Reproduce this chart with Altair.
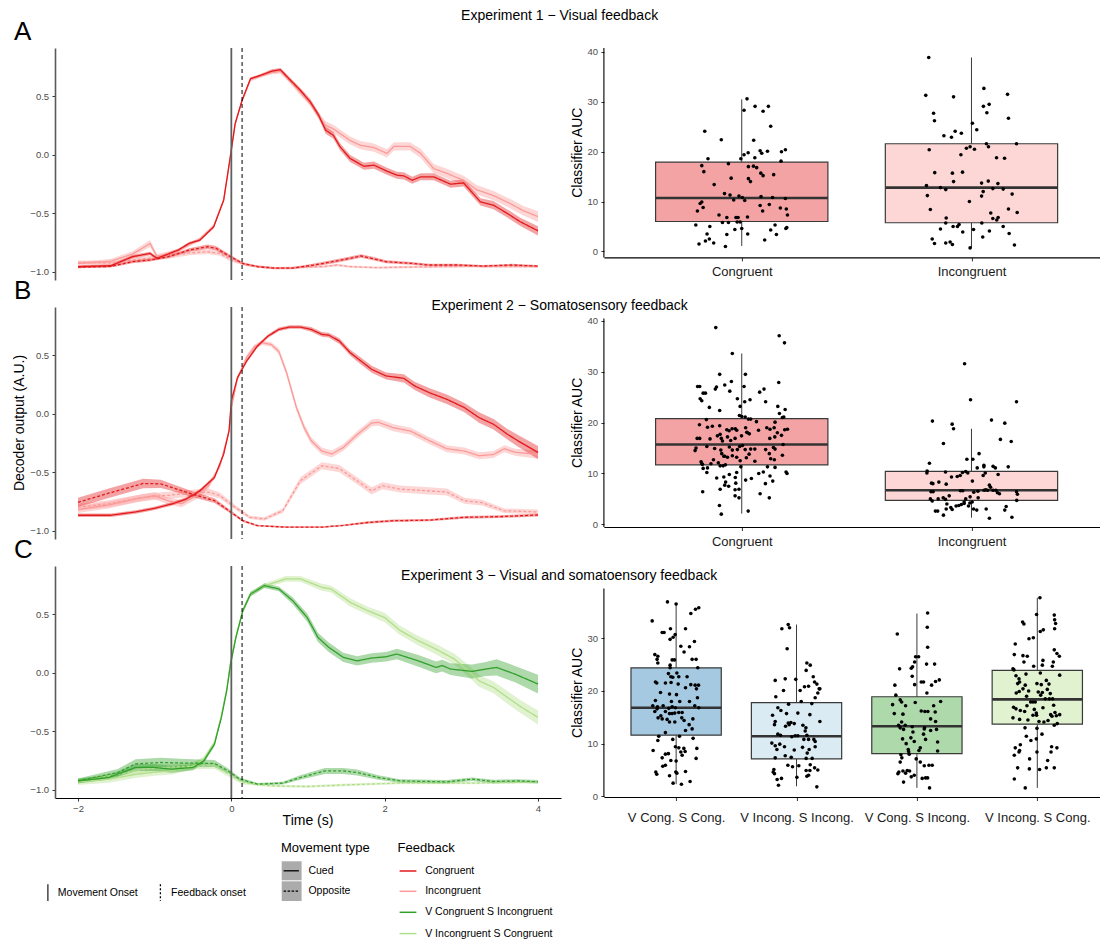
import altair as alt
import pandas as pd

FONT = "Liberation Sans"
INK = "#1a1a1a"
TICK_GREY = "#4d4d4d"

# ---------------------------------------------------------------- categories
FEEDBACK = ["Congruent", "Incongruent", "V Congruent S Incongruent", "V Incongruent S Congruent"]
FEEDBACK_COLORS = ["#E31A1C", "#FB9A99", "#33A02C", "#B2DF8A"]
MOVEMENT = ["Cued", "Opposite"]
MOVEMENT_DASH = [[1, 0], [3, 2]]
MOVEMENT_ONSET = 0.0
FEEDBACK_ONSET = 0.14

EXP_TITLES = {
    "exp1": "Experiment 1 \u2212 Visual feedback",
    "exp2": "Experiment 2 \u2212 Somatosensory feedback",
    "exp3": "Experiment 3 \u2212 Visual and somatoensory feedback",
}

# ------------------------------------------- decoder output: (time, mean, se)
EXP1_CUED_CONGRUENT = [
    (-2.0, -0.957, .012), (-1.57, -0.949, .012), (-1.29, -0.872, .015), (-1.06, -0.844, .015),
    (-0.97, -0.886, .012), (-0.69, -0.815, .012), (-0.55, -0.758, .012), (-0.41, -0.73, .012),
    (-0.23, -0.617, .012), (-0.10, -0.389, .012), (-0.02, -0.048, .012), (0.05, 0.265, .012),
    (0.14, 0.463, .012), (0.25, 0.648, .012), (0.38, 0.676, .012), (0.53, 0.713, .015),
    (0.64, 0.725, .015), (0.75, 0.648, .02), (0.90, 0.549, .02), (1.03, 0.449, .025),
    (1.14, 0.335, .025), (1.23, 0.208, .03), (1.33, 0.165, .03), (1.42, 0.065, .03),
    (1.55, -0.034, .03), (1.73, -0.10, .03), (1.86, -0.09, .03), (2.03, -0.142, .03),
    (2.16, -0.176, .03), (2.25, -0.182, .03), (2.36, -0.219, .03), (2.47, -0.19, .03),
    (2.64, -0.19, .03), (2.86, -0.253, .03), (3.03, -0.242, .03), (3.25, -0.404, .03),
    (3.42, -0.432, .035), (3.60, -0.503, .035), (3.77, -0.574, .035), (4.0, -0.651, .04),
]
EXP1_CUED_INCONGRUENT = [
    (-2.0, -0.93, .015), (-1.57, -0.91, .02), (-1.29, -0.85, .025), (-1.06, -0.76, .03),
    (-0.97, -0.87, .02), (-0.69, -0.82, .015), (-0.55, -0.77, .015), (-0.41, -0.72, .015),
    (-0.23, -0.61, .015), (-0.10, -0.39, .015), (-0.02, -0.05, .015), (0.05, 0.26, .015),
    (0.14, 0.46, .015), (0.25, 0.64, .015), (0.38, 0.67, .015), (0.53, 0.70, .015),
    (0.64, 0.71, .02), (0.75, 0.64, .02), (0.90, 0.53, .025), (1.03, 0.44, .025),
    (1.14, 0.33, .03), (1.23, 0.25, .035), (1.33, 0.22, .035), (1.55, 0.12, .035),
    (1.68, 0.08, .035), (1.86, 0.06, .035), (2.03, 0.01, .035), (2.12, 0.07, .035),
    (2.33, 0.07, .035), (2.47, 0.01, .04), (2.64, -0.12, .04), (2.81, -0.16, .04),
    (3.03, -0.22, .04), (3.2, -0.30, .04), (3.42, -0.35, .04), (3.64, -0.42, .04),
    (3.81, -0.48, .04), (4.0, -0.53, .045),
]
EXP1_OPPOSITE_CONGRUENT = [
    (-2.0, -0.96, .01), (-1.57, -0.955, .01), (-1.29, -0.915, .012), (-1.06, -0.90, .012),
    (-0.82, -0.872, .012), (-0.55, -0.815, .015), (-0.31, -0.787, .02), (-0.20, -0.80, .02),
    (-0.01, -0.872, .015), (0.15, -0.93, .01), (0.34, -0.957, .01), (0.57, -0.97, .01),
    (0.80, -0.97, .01), (1.08, -0.943, .012), (1.32, -0.915, .015), (1.55, -0.886, .015),
    (1.69, -0.866, .015), (1.83, -0.886, .015), (2.02, -0.915, .012), (2.35, -0.929, .012),
    (2.58, -0.943, .01), (2.95, -0.943, .01), (3.28, -0.952, .01), (3.65, -0.943, .01),
    (4.0, -0.952, .01),
]
EXP1_OPPOSITE_INCONGRUENT = [
    (-2.0, -0.92, .015), (-1.57, -0.925, .015), (-1.29, -0.90, .02), (-0.82, -0.87, .02),
    (-0.55, -0.84, .02), (-0.31, -0.83, .02), (-0.15, -0.844, .02), (0.0, -0.90, .015),
    (0.2, -0.943, .01), (0.53, -0.97, .01), (0.80, -0.965, .01), (1.2, -0.957, .01),
    (1.38, -0.943, .01), (1.55, -0.957, .01), (1.9, -0.966, .01), (2.35, -0.96, .01),
    (3.05, -0.955, .01), (4.0, -0.957, .01),
]

EXP2_CUED_CONGRUENT = [
    (-2.0, -0.868, .015), (-1.57, -0.868, .015), (-1.25, -0.84, .015), (-1.01, -0.81, .015),
    (-0.78, -0.773, .015), (-0.59, -0.73, .015), (-0.41, -0.66, .015), (-0.22, -0.545, .015),
    (-0.10, -0.347, .015), (-0.03, -0.148, .015), (0.0, 0.108, .015), (0.08, 0.307, .015),
    (0.20, 0.449, .015), (0.34, 0.577, .015), (0.48, 0.662, .015), (0.62, 0.719, .015),
    (0.76, 0.739, .015), (0.90, 0.739, .015), (1.04, 0.719, .02), (1.18, 0.676, .02),
    (1.27, 0.67, .02), (1.41, 0.619, .025), (1.55, 0.52, .025), (1.69, 0.449, .03),
    (1.83, 0.378, .03), (2.02, 0.321, .03), (2.25, 0.301, .035), (2.39, 0.236, .035),
    (2.58, 0.179, .04), (2.81, 0.122, .04), (3.04, 0.051, .04), (3.23, -0.034, .045),
    (3.42, -0.091, .045), (3.60, -0.176, .045), (3.74, -0.233, .05), (4.0, -0.332, .055),
]
EXP2_CUED_INCONGRUENT = [
    (-2.0, -0.82, .03), (-1.6, -0.78, .03), (-1.25, -0.73, .03), (-1.0, -0.70, .03),
    (-0.85, -0.74, .03), (-0.65, -0.77, .03), (-0.45, -0.70, .03), (-0.3, -0.62, .025),
    (-0.15, -0.45, .02), (-0.03, -0.15, .02), (0.0, 0.05, .02), (0.08, 0.30, .02),
    (0.2, 0.48, .02), (0.3, 0.57, .02), (0.4, 0.605, .02), (0.52, 0.59, .02),
    (0.62, 0.53, .025), (0.72, 0.35, .03), (0.85, 0.05, .03), (0.95, -0.12, .03),
    (1.04, -0.23, .03), (1.18, -0.32, .03), (1.31, -0.345, .03), (1.46, -0.29, .03),
    (1.64, -0.18, .03), (1.83, -0.08, .03), (1.92, -0.075, .03), (2.11, -0.12, .03),
    (2.34, -0.15, .03), (2.58, -0.23, .03), (2.81, -0.30, .03), (3.04, -0.32, .03),
    (3.23, -0.36, .03), (3.42, -0.35, .03), (3.56, -0.30, .03), (3.70, -0.33, .03),
    (4.0, -0.35, .035),
]
EXP2_OPPOSITE_CONGRUENT = [
    (-2.0, -0.758, .04), (-1.6, -0.68, .04), (-1.15, -0.597, .04), (-0.92, -0.60, .035),
    (-0.78, -0.63, .03), (-0.5, -0.69, .025), (-0.22, -0.744, .02), (-0.03, -0.83, .015),
    (0.15, -0.915, .01), (0.34, -0.957, .008), (0.72, -0.97, .008), (1.18, -0.97, .008),
    (1.46, -0.955, .008), (1.78, -0.93, .01), (2.11, -0.915, .01), (2.58, -0.91, .01),
    (3.04, -0.886, .012), (3.51, -0.88, .012), (4.0, -0.866, .012),
]
EXP2_OPPOSITE_INCONGRUENT = [
    (-2.0, -0.80, .03), (-1.6, -0.77, .03), (-1.15, -0.716, .03), (-0.7, -0.69, .03),
    (-0.3, -0.67, .03), (-0.15, -0.70, .025), (0.05, -0.80, .02), (0.24, -0.886, .015),
    (0.43, -0.90, .015), (0.67, -0.83, .02), (0.90, -0.574, .03), (1.18, -0.446, .03),
    (1.41, -0.47, .03), (1.64, -0.574, .03), (1.83, -0.66, .03), (1.97, -0.616, .03),
    (2.20, -0.645, .03), (2.58, -0.66, .03), (2.81, -0.67, .03), (3.04, -0.744, .025),
    (3.27, -0.76, .025), (3.56, -0.83, .02), (4.0, -0.84, .02),
]

EXP3_CUED_VC_SI = [
    (-2.0, -0.925, .02), (-1.6, -0.896, .02), (-1.25, -0.81, .03), (-1.01, -0.81, .03),
    (-0.78, -0.825, .03), (-0.5, -0.81, .025), (-0.36, -0.754, .02), (-0.22, -0.611, .02),
    (-0.13, -0.383, .02), (-0.06, -0.155, .02), (-0.01, 0.073, .02), (0.06, 0.30, .02),
    (0.15, 0.528, .02), (0.25, 0.67, .02), (0.43, 0.742, .02), (0.62, 0.714, .02),
    (0.80, 0.614, .03), (0.99, 0.47, .035), (1.13, 0.30, .04), (1.27, 0.216, .04),
    (1.46, 0.13, .04), (1.64, 0.10, .04), (1.83, 0.124, .04), (2.02, 0.135, .04),
    (2.16, 0.158, .045), (2.44, 0.10, .05), (2.67, 0.044, .05), (2.75, 0.06, .05),
    (2.86, 0.03, .05), (3.14, 0.01, .06), (3.32, 0.03, .06), (3.46, 0.044, .07),
    (3.70, -0.013, .07), (4.0, -0.098, .08),
]
EXP3_CUED_VI_SC = [
    (-2.0, -0.935, .025), (-1.6, -0.91, .03), (-1.25, -0.87, .03), (-1.0, -0.85, .03),
    (-0.78, -0.84, .03), (-0.5, -0.80, .03), (-0.36, -0.74, .025), (-0.22, -0.60, .02),
    (-0.13, -0.37, .02), (-0.06, -0.14, .02), (-0.01, 0.09, .02), (0.06, 0.31, .02),
    (0.15, 0.53, .02), (0.25, 0.67, .02), (0.43, 0.74, .02), (0.71, 0.80, .025),
    (0.90, 0.80, .025), (1.18, 0.728, .03), (1.30, 0.714, .03), (1.55, 0.60, .035),
    (1.78, 0.528, .035), (2.0, 0.47, .04), (2.2, 0.36, .04), (2.44, 0.272, .04),
    (2.67, 0.20, .045), (2.91, 0.115, .045), (3.09, 0.016, .05), (3.23, -0.07, .05),
    (3.42, -0.127, .05), (3.60, -0.212, .055), (3.79, -0.298, .055), (4.0, -0.383, .06),
]
EXP3_OPPOSITE_VC_SI = [
    (-2.0, -0.925, .02), (-1.48, -0.853, .03), (-1.25, -0.78, .04), (-0.92, -0.768, .04),
    (-0.6, -0.773, .035), (-0.22, -0.776, .03), (-0.04, -0.84, .02), (0.11, -0.91, .015),
    (0.34, -0.953, .01), (0.67, -0.944, .012), (0.90, -0.896, .02), (1.22, -0.84, .025),
    (1.46, -0.84, .025), (1.64, -0.853, .025), (1.92, -0.896, .02), (2.2, -0.925, .015),
    (2.81, -0.933, .015), (3.14, -0.91, .015), (3.42, -0.93, .015), (3.74, -0.925, .015),
    (4.0, -0.933, .015),
]
EXP3_OPPOSITE_VI_SC = [
    (-2.0, -0.93, .02), (-1.48, -0.87, .02), (-1.1, -0.82, .03), (-0.6, -0.80, .03),
    (-0.22, -0.796, .025), (-0.04, -0.867, .02), (0.15, -0.94, .015), (0.52, -0.967, .01),
    (0.99, -0.973, .01), (1.46, -0.96, .01), (2.16, -0.944, .01), (3.09, -0.944, .01),
    (4.0, -0.936, .01),
]

# drawn in this order: lighter feedback first so the darker trace stays on top
SERIES = [
    ("exp1", "Incongruent", "Opposite", EXP1_OPPOSITE_INCONGRUENT),
    ("exp1", "Incongruent", "Cued", EXP1_CUED_INCONGRUENT),
    ("exp1", "Congruent", "Opposite", EXP1_OPPOSITE_CONGRUENT),
    ("exp1", "Congruent", "Cued", EXP1_CUED_CONGRUENT),
    ("exp2", "Incongruent", "Opposite", EXP2_OPPOSITE_INCONGRUENT),
    ("exp2", "Incongruent", "Cued", EXP2_CUED_INCONGRUENT),
    ("exp2", "Congruent", "Opposite", EXP2_OPPOSITE_CONGRUENT),
    ("exp2", "Congruent", "Cued", EXP2_CUED_CONGRUENT),
    ("exp3", "V Incongruent S Congruent", "Opposite", EXP3_OPPOSITE_VI_SC),
    ("exp3", "V Incongruent S Congruent", "Cued", EXP3_CUED_VI_SC),
    ("exp3", "V Congruent S Incongruent", "Opposite", EXP3_OPPOSITE_VC_SI),
    ("exp3", "V Congruent S Incongruent", "Cued", EXP3_CUED_VC_SI),
]

# ------------------------------------------------ classifier AUC per subject
# box statistics: (lower whisker, q1, median, q3, upper whisker)
EXP1_LABELS = ["Congruent", "Incongruent"]
EXP1_FILLS = ["#F4A3A4", "#FDD7D6"]
EXP1_BOXES = [(1.1, 6.0, 10.7, 17.9, 30.5), (0.7, 5.75, 12.8, 21.6, 38.9)]
EXP2_LABELS = ["Congruent", "Incongruent"]
EXP2_FILLS = ["#F4A3A4", "#FDD7D6"]
EXP2_BOXES = [(2.1, 11.7, 15.7, 20.8, 33.6), (1.3, 4.7, 6.7, 10.4, 18.8)]
EXP3_LABELS = ["V Cong. S Cong.", "V Incong. S Incong.", "V Cong. S Incong.", "V Incong. S Cong."]
EXP3_FILLS = ["#A5C9E1", "#DBEBF4", "#ADD9AB", "#E0F2D0"]
EXP3_BOXES = [(2.3, 11.6, 16.8, 24.4, 36.5), (1.9, 7.1, 11.4, 17.8, 32.6),
              (1.6, 8.1, 13.3, 18.9, 34.7), (1.6, 13.7, 18.4, 23.9, 37.7)]

# subject points: (horizontal jitter in category units, AUC)
EXP1_CONGRUENT_POINTS = [
    (0.023, 30.6), (0.010, 28.3), (0.058, 29.1), (0.116, 29.1), (0.093, 28.1), (0.126, 25.1),
    (-0.161, 24.1), (-0.089, 22.4), (0.052, 22.3), (-0.147, 18.6), (-0.004, 18.6), (0.010, 19.4),
    (0.028, 19.8), (0.057, 18.8), (0.080, 20.2), (0.087, 19.7), (0.112, 20.1), (0.173, 20.0),
    (0.190, 20.4), (0.171, 18.1), (-0.174, 17.2), (-0.165, 16.0), (-0.058, 17.6), (0.029, 17.0),
    (0.051, 17.1), (0.065, 16.8), (0.083, 15.7), (0.093, 15.2), (0.139, 15.4), (-0.046, 14.7),
    (0.029, 14.6), (0.038, 14.0), (-0.120, 13.4), (-0.075, 11.6), (-0.051, 11.3), (-0.012, 11.1),
    (0.003, 10.8), (0.013, 10.2), (-0.035, 10.3), (0.084, 11.0), (0.134, 10.8), (0.190, 10.6),
    (-0.174, 9.9), (-0.181, 9.6), (-0.168, 8.8), (-0.193, 8.1), (0.080, 9.2), (0.091, 8.1),
    (0.120, 9.4), (0.168, 8.7), (0.194, 8.5), (0.199, 7.3), (-0.099, 7.3), (-0.065, 6.8),
    (-0.025, 6.8), (-0.016, 6.8), (0.025, 6.9), (-0.084, 5.8), (-0.058, 5.8), (-0.020, 5.9),
    (-0.007, 5.9), (-0.200, 5.3), (-0.139, 5.0), (-0.151, 3.5), (-0.141, 2.5), (-0.158, 2.1),
    (-0.186, 1.5), (-0.122, 1.7), (-0.071, 1.0), (-0.065, 3.4), (-0.030, 4.4), (0.000, 4.6),
    (0.026, 3.5), (0.100, 2.3), (0.126, 4.3), (0.145, 5.3), (0.151, 3.4), (0.192, 4.6),
    (0.196, 4.8),
]
EXP1_INCONGRUENT_POINTS = [
    (-0.186, 38.9), (-0.199, 31.3), (-0.078, 31.0), (0.054, 32.7), (0.157, 31.5), (0.052, 29.1),
    (0.077, 29.5), (0.067, 27.8), (0.161, 26.7), (-0.165, 27.7), (-0.161, 26.2), (0.004, 25.7),
    (0.023, 24.4), (-0.120, 23.2), (-0.087, 22.9), (-0.071, 24.1), (-0.044, 23.7), (0.196, 21.6),
    (0.065, 21.6), (0.074, 21.0), (-0.184, 20.4), (-0.046, 19.4), (-0.022, 20.7), (-0.006, 21.0),
    (0.013, 20.5), (0.109, 18.8), (0.144, 18.7), (-0.160, 15.8), (-0.083, 15.7), (-0.039, 15.9),
    (-0.078, 14.0), (0.044, 13.7), (0.073, 14.1), (0.115, 13.6), (-0.196, 13.2), (-0.135, 12.8),
    (-0.112, 12.4), (0.093, 12.6), (0.138, 12.5), (-0.192, 11.2), (0.044, 11.1), (0.051, 12.0),
    (0.177, 11.5), (-0.009, 10.0), (-0.179, 8.4), (0.084, 7.7), (0.161, 8.5), (0.199, 7.8),
    (-0.110, 6.7), (0.093, 6.6), (0.110, 6.3), (0.116, 6.8), (-0.112, 5.7), (-0.135, 4.5),
    (-0.080, 5.0), (-0.061, 5.0), (-0.054, 5.4), (-0.038, 3.9), (0.009, 4.4), (0.045, 5.7),
    (0.078, 4.1), (0.138, 5.0), (0.049, 2.9), (0.164, 3.6), (-0.171, 2.5), (-0.161, 1.6),
    (-0.112, 1.7), (-0.093, 1.9), (-0.083, 1.4), (-0.006, 0.7), (0.187, 1.3),
]
EXP2_CONGRUENT_POINTS = [
    (-0.113, 38.7), (0.163, 37.1), (0.186, 35.7), (-0.041, 33.6), (0.016, 29.5), (-0.096, 29.5),
    (-0.192, 27.1), (-0.183, 27.1), (-0.115, 26.6), (-0.110, 27.0), (-0.074, 27.4), (-0.045, 28.1),
    (-0.052, 26.2), (0.010, 27.1), (-0.168, 25.8), (-0.158, 25.8), (-0.181, 24.7), (-0.174, 24.3),
    (-0.019, 24.7), (0.013, 24.1), (0.036, 24.5), (0.078, 26.0), (0.097, 26.6), (0.104, 24.1),
    (0.161, 27.9), (-0.141, 23.0), (-0.096, 22.4), (-0.007, 23.2), (0.157, 23.2), (0.189, 22.6),
    (0.164, 21.8), (-0.010, 21.4), (0.000, 21.2), (0.015, 21.1), (0.029, 20.7), (0.039, 20.7),
    (-0.154, 20.6), (0.064, 20.2), (0.145, 20.1), (0.177, 21.0), (0.183, 21.1), (-0.184, 19.6),
    (-0.149, 19.1), (-0.128, 19.3), (-0.096, 19.4), (-0.065, 18.6), (-0.055, 18.4), (-0.042, 18.8),
    (-0.028, 18.8), (-0.022, 18.5), (0.017, 19.0), (0.022, 18.1), (0.033, 17.8), (0.073, 18.5),
    (0.109, 19.0), (0.123, 18.7), (0.141, 19.0), (0.155, 18.0), (0.187, 18.6), (0.199, 18.7),
    (-0.194, 16.9), (-0.183, 16.9), (-0.138, 16.8), (-0.106, 17.4), (-0.094, 17.7), (-0.089, 16.9),
    (-0.084, 16.4), (-0.062, 17.2), (-0.048, 16.5), (-0.029, 16.9), (-0.001, 17.4), (0.025, 18.0),
    (0.122, 16.9), (0.144, 17.2), (0.173, 17.5), (-0.199, 15.0), (-0.203, 14.5), (-0.152, 15.3),
    (-0.118, 14.9), (-0.091, 14.6), (-0.087, 13.9), (-0.074, 13.4), (-0.054, 15.2), (-0.041, 14.6),
    (-0.019, 14.7), (-0.009, 15.3), (0.003, 15.5), (0.015, 14.7), (0.039, 14.8), (0.057, 14.8),
    (0.104, 14.7), (0.138, 15.1), (0.145, 14.8), (0.180, 15.7), (0.177, 13.6), (-0.078, 13.4),
    (-0.062, 13.2), (-0.041, 13.5), (-0.022, 13.2), (-0.007, 12.5), (0.020, 13.1), (0.032, 13.8),
    (0.057, 12.4), (0.120, 13.9), (0.126, 12.9), (0.142, 12.7), (-0.177, 12.3), (-0.174, 11.9),
    (-0.168, 11.0), (-0.149, 11.1), (-0.123, 12.7), (-0.134, 11.9), (-0.102, 12.1), (-0.094, 11.5),
    (-0.081, 11.5), (-0.071, 11.7), (-0.004, 11.3), (-0.171, 11.8), (0.112, 11.3), (0.145, 11.2),
    (0.193, 10.3), (0.197, 10.0), (-0.152, 10.2), (-0.109, 9.1), (-0.078, 9.3), (-0.054, 9.8),
    (-0.028, 9.2), (-0.022, 10.2), (0.017, 8.7), (0.042, 9.0), (0.074, 10.0), (0.094, 10.3),
    (0.123, 9.5), (0.135, 8.5), (0.103, 8.0), (-0.070, 8.3), (-0.074, 7.7), (-0.057, 7.5),
    (-0.026, 8.1), (-0.094, 6.9), (-0.029, 6.8), (-0.012, 6.9), (-0.170, 6.4), (0.080, 6.0),
    (0.120, 5.2), (-0.029, 5.6), (-0.012, 5.2), (-0.097, 3.7), (-0.089, 2.0), (0.028, 2.6),
]
EXP2_INCONGRUENT_POINTS = [
    (-0.030, 31.6), (-0.004, 24.5), (0.196, 24.1), (-0.170, 20.3), (-0.084, 19.7), (-0.078, 18.8),
    (0.087, 20.5), (0.145, 19.9), (-0.122, 15.9), (0.126, 16.7), (0.173, 16.3), (0.033, 13.9),
    (-0.020, 12.8), (0.006, 12.8), (-0.183, 12.0), (-0.193, 10.5), (-0.194, 10.1), (-0.113, 10.3),
    (-0.039, 10.2), (-0.025, 10.4), (-0.016, 10.1), (0.025, 11.1), (0.054, 11.6), (0.054, 11.3),
    (0.094, 11.4), (0.104, 11.1), (0.116, 9.8), (0.160, 11.3), (-0.062, 9.4), (-0.049, 9.6),
    (-0.142, 8.3), (-0.110, 7.9), (-0.174, 8.1), (-0.168, 8.0), (-0.087, 9.3), (0.004, 8.5),
    (0.051, 9.6), (0.060, 10.1), (0.078, 7.7), (0.083, 7.3), (0.070, 6.7), (0.106, 6.7),
    (0.113, 6.2), (0.122, 6.0), (0.196, 6.4), (0.200, 5.9), (-0.176, 6.4), (-0.167, 6.4),
    (-0.179, 5.0), (-0.171, 4.6), (-0.145, 5.0), (-0.123, 5.2), (-0.113, 4.9), (-0.097, 5.6),
    (-0.048, 6.6), (-0.038, 6.6), (-0.006, 5.4), (0.010, 6.3), (0.028, 6.5), (0.055, 6.7),
    (0.062, 6.8), (0.094, 6.7), (-0.025, 5.0), (-0.032, 4.4), (0.003, 4.4), (0.029, 5.2),
    (0.197, 4.7), (-0.107, 4.0), (-0.090, 3.3), (-0.084, 2.9), (-0.067, 3.6), (-0.055, 3.7),
    (-0.044, 3.9), (-0.032, 4.1), (-0.013, 3.6), (-0.007, 4.2), (-0.157, 2.6), (-0.147, 2.6),
    (-0.110, 3.0), (0.009, 3.0), (0.023, 2.8), (0.064, 3.0), (0.145, 2.8), (0.151, 3.5),
    (-0.122, 1.8), (0.078, 1.2), (0.176, 1.4),
]
EXP3_VC_SC_POINTS = [
    (-0.072, 36.9), (0.000, 36.5), (0.188, 35.8), (0.161, 35.5), (0.122, 34.7), (-0.199, 33.3),
    (-0.047, 31.8), (-0.116, 31.1), (-0.100, 31.1), (-0.008, 30.7), (-0.025, 30.2), (-0.050, 29.8),
    (0.078, 31.8), (0.039, 28.5), (0.111, 28.4), (0.152, 29.4), (-0.177, 26.9), (-0.152, 26.6),
    (-0.158, 26.0), (-0.152, 25.3), (-0.033, 25.9), (-0.014, 25.9), (-0.050, 24.9), (0.066, 27.4),
    (0.133, 26.0), (0.166, 26.0), (0.180, 24.4), (-0.050, 24.4), (-0.064, 23.3), (-0.044, 22.7),
    (-0.028, 22.6), (0.022, 22.7), (0.091, 22.7), (0.006, 23.4), (-0.172, 21.7), (-0.161, 21.5),
    (-0.089, 21.5), (-0.042, 21.6), (0.017, 21.3), (0.122, 21.2), (0.158, 21.1), (0.186, 21.1),
    (0.169, 20.4), (0.078, 20.6), (-0.130, 19.7), (-0.055, 19.4), (0.003, 19.3), (-0.172, 18.2),
    (-0.039, 18.0), (0.030, 18.0), (0.111, 18.0), (0.177, 18.7), (-0.194, 17.2), (-0.155, 17.0),
    (-0.158, 16.6), (-0.108, 17.2), (-0.061, 16.7), (-0.033, 17.0), (-0.006, 16.8), (0.155, 17.2),
    (0.188, 16.8), (-0.177, 16.1), (-0.089, 16.1), (-0.055, 15.7), (-0.033, 15.7), (-0.011, 15.8),
    (0.022, 15.9), (0.050, 15.9), (-0.127, 15.3), (-0.150, 14.9), (-0.116, 14.7), (-0.075, 14.6),
    (-0.055, 14.1), (-0.011, 14.1), (0.047, 14.9), (0.066, 14.4), (0.139, 14.7), (0.108, 13.6),
    (0.078, 12.5), (0.133, 12.8), (-0.144, 11.4), (-0.152, 10.6), (-0.028, 10.8), (-0.089, 12.1),
    (0.028, 11.4), (0.141, 11.0), (-0.006, 9.4), (0.022, 9.2), (0.064, 9.1), (0.075, 8.5),
    (0.039, 8.4), (0.050, 7.8), (-0.191, 8.7), (-0.089, 8.0), (-0.064, 8.1), (-0.116, 7.3),
    (0.172, 9.1), (-0.044, 6.8), (0.166, 7.2), (0.000, 6.7), (-0.089, 5.9), (-0.111, 5.7),
    (-0.003, 4.6), (-0.169, 4.6), (-0.161, 4.2), (-0.055, 3.9), (0.078, 4.7), (0.006, 4.4),
    (-0.025, 2.5), (0.044, 2.3), (0.116, 2.8),
]
EXP3_VI_SI_POINTS = [
    (-0.122, 31.8), (-0.069, 32.6), (-0.058, 32.0), (-0.078, 28.0), (0.086, 25.3), (0.114, 24.9),
    (0.080, 23.9), (0.139, 22.7), (0.150, 21.7), (0.169, 21.3), (0.188, 20.4), (0.177, 19.6),
    (0.194, 20.4), (-0.177, 22.0), (-0.094, 22.3), (-0.006, 22.2), (-0.108, 20.1), (0.100, 20.9),
    (0.066, 20.8), (0.030, 20.1), (-0.172, 18.9), (0.039, 18.0), (-0.066, 17.5), (0.155, 18.7),
    (0.127, 17.6), (-0.155, 16.8), (-0.130, 16.3), (-0.083, 15.7), (0.011, 15.8), (0.111, 15.5),
    (-0.199, 15.4), (-0.177, 14.2), (-0.183, 13.6), (-0.069, 13.9), (-0.047, 14.0), (-0.061, 13.6),
    (-0.091, 13.3), (-0.019, 13.8), (0.053, 13.5), (0.078, 13.0), (0.194, 14.2), (-0.039, 11.3),
    (-0.011, 11.5), (0.011, 11.5), (-0.155, 11.8), (-0.133, 11.6), (0.072, 12.4), (0.086, 11.6),
    (0.061, 10.8), (0.100, 10.8), (0.144, 10.8), (0.155, 10.4), (-0.205, 10.1), (-0.177, 9.6),
    (-0.139, 9.9), (-0.163, 8.9), (-0.100, 9.4), (-0.019, 8.8), (0.050, 9.3), (0.089, 8.2),
    (0.105, 8.9), (0.155, 9.4), (-0.177, 7.3), (-0.094, 7.7), (-0.044, 7.4), (0.080, 7.2),
    (0.130, 7.2), (-0.072, 5.9), (-0.033, 5.6), (0.019, 5.8), (0.114, 6.0), (0.080, 4.9),
    (0.111, 4.9), (0.150, 5.4), (0.177, 5.0), (-0.188, 5.1), (-0.194, 4.6), (-0.183, 4.3),
    (0.086, 3.8), (0.100, 4.0), (-0.161, 3.2), (-0.125, 3.4), (-0.150, 2.1), (0.003, 3.6),
    (0.169, 1.8),
]
EXP3_VC_SI_POINTS = [
    (0.089, 34.8), (0.086, 32.1), (-0.163, 30.8), (0.089, 28.3), (-0.011, 26.5), (0.014, 26.5),
    (-0.019, 25.5), (-0.036, 24.6), (-0.047, 24.3), (-0.144, 24.2), (0.080, 25.1), (0.147, 25.1),
    (-0.039, 22.8), (0.036, 21.7), (0.055, 21.7), (-0.019, 21.2), (0.122, 21.1), (0.186, 22.1),
    (0.155, 21.8), (0.083, 19.6), (-0.183, 21.1), (-0.175, 19.2), (-0.139, 18.3), (-0.127, 17.9),
    (-0.014, 17.8), (0.197, 18.0), (-0.202, 17.4), (-0.188, 15.7), (-0.094, 17.2), (0.036, 16.2),
    (0.066, 16.1), (0.091, 16.1), (0.139, 17.2), (0.152, 16.0), (-0.116, 15.6), (0.155, 14.2),
    (0.114, 14.7), (-0.127, 14.1), (-0.152, 13.5), (-0.139, 13.0), (-0.097, 13.5), (-0.039, 13.2),
    (-0.111, 12.7), (0.064, 13.0), (0.114, 12.5), (0.055, 11.8), (-0.033, 12.2), (-0.119, 10.9),
    (-0.050, 11.1), (-0.022, 10.4), (0.028, 9.2), (0.072, 10.8), (0.172, 10.3), (-0.089, 10.0),
    (-0.072, 8.9), (-0.069, 8.5), (0.017, 8.7), (-0.064, 8.0), (-0.133, 7.9), (-0.125, 7.3),
    (-0.139, 6.5), (-0.006, 7.1), (0.028, 6.5), (0.061, 5.8), (0.100, 5.9), (0.127, 5.9),
    (-0.150, 4.6), (-0.116, 4.8), (-0.094, 4.4), (-0.061, 4.8), (-0.158, 4.3), (-0.111, 2.7),
    (-0.047, 3.7), (-0.022, 4.0), (0.044, 3.4), (0.072, 3.5), (0.089, 3.5), (0.105, 1.6),
    (-0.080, 4.9), (0.061, 12.8), (0.172, 8.6), (0.163, 12.7),
]
EXP3_VI_SC_POINTS = [
    (0.022, 37.7), (-0.122, 33.1), (-0.111, 32.7), (-0.006, 34.5), (0.141, 34.4), (0.144, 33.5),
    (0.152, 32.8), (0.144, 31.8), (0.050, 31.6), (0.025, 31.3), (-0.069, 29.9), (-0.033, 30.1),
    (-0.183, 28.9), (0.141, 27.8), (0.163, 27.1), (0.183, 26.6), (-0.191, 26.9), (-0.119, 26.7),
    (-0.083, 26.6), (-0.111, 25.5), (-0.030, 24.7), (0.047, 25.8), (0.042, 24.9), (0.133, 25.5),
    (0.125, 24.7), (-0.202, 24.2), (-0.194, 24.0), (-0.177, 22.9), (-0.094, 23.2), (-0.152, 22.3),
    (0.025, 23.4), (0.075, 22.0), (0.186, 23.0), (-0.163, 21.4), (-0.147, 21.7), (-0.119, 20.4),
    (-0.100, 21.1), (-0.072, 20.0), (-0.003, 21.4), (0.033, 21.2), (0.097, 21.3), (0.108, 19.5),
    (0.008, 19.8), (0.042, 19.7), (0.083, 20.3), (0.127, 18.5), (-0.150, 19.9), (-0.175, 19.6),
    (-0.089, 19.0), (-0.055, 17.9), (-0.036, 17.9), (-0.017, 17.9), (0.028, 19.2), (0.066, 18.5),
    (0.100, 18.5), (0.136, 17.3), (-0.197, 16.9), (-0.177, 16.6), (-0.141, 16.3), (-0.105, 16.1),
    (-0.086, 17.2), (-0.025, 16.5), (-0.008, 15.8), (0.014, 14.2), (0.055, 14.1), (0.089, 14.4),
    (0.111, 15.5), (0.122, 15.2), (0.147, 15.9), (0.158, 15.3), (0.186, 15.5), (-0.202, 14.9),
    (-0.147, 14.6), (-0.078, 14.5), (-0.036, 15.4), (0.047, 16.8), (-0.006, 15.4), (0.141, 13.5),
    (-0.102, 13.0), (-0.003, 12.9), (-0.091, 11.4), (-0.053, 10.6), (-0.008, 10.9), (0.039, 11.8),
    (-0.141, 9.8), (-0.183, 9.2), (-0.191, 7.8), (-0.152, 8.4), (-0.064, 7.1), (-0.003, 8.4),
    (0.119, 9.4), (0.163, 9.2), (0.114, 8.4), (0.086, 6.8), (-0.163, 5.4), (-0.066, 5.2),
    (0.019, 5.1), (0.075, 5.4), (0.141, 5.4), (-0.191, 3.3), (-0.100, 1.6), (0.166, 13.8),
    (-0.147, 8.7),
]

EXP1_POINTS = [EXP1_CONGRUENT_POINTS, EXP1_INCONGRUENT_POINTS]
EXP2_POINTS = [EXP2_CONGRUENT_POINTS, EXP2_INCONGRUENT_POINTS]
EXP3_POINTS = [EXP3_VC_SC_POINTS, EXP3_VI_SI_POINTS, EXP3_VC_SI_POINTS, EXP3_VI_SC_POINTS]

# y limits of each AUC panel and visible end of the category axis
EXP1_AUC_LIMITS = (-1.2, 40.8)
EXP2_AUC_LIMITS = (-0.53, 40.47)
EXP3_AUC_LIMITS = (-0.13, 39.43)
TWO_GROUP_X_END = 2.559
FOUR_GROUP_X_END = 4.52
BOX_WIDTH = 0.75

# ------------------------------------------------------------ layout sizes
LINE_W, LINE_H = 506, 232
AUC_W = 496
ROW_GAP, COL_GAP = 27, 42.9

ONE = pd.DataFrame({"k": [0]})


def note(text, x, y, size, align="left", baseline="middle", angle=0, color="black"):
    return alt.Chart(ONE).mark_text(
        text=text, font=FONT, fontSize=size, align=align, baseline=baseline,
        angle=angle, color=color,
    ).encode(x=alt.value(x), y=alt.value(y))


def segment(x1, y1, x2, y2, color="black", width=1.0, dash=None):
    kw = dict(color=color, strokeWidth=width)
    if dash:
        kw["strokeDash"] = dash
    return alt.Chart(ONE).mark_rule(**kw).encode(
        x=alt.value(x1), y=alt.value(y1), x2=alt.value(x2), y2=alt.value(y2))


def block(x1, y1, x2, y2, color):
    return alt.Chart(ONE).mark_rect(color=color).encode(
        x=alt.value(x1), y=alt.value(y1), x2=alt.value(x2), y2=alt.value(y2))


# --------------------------------------------------------- time-course panels
rows = []
for exp, fb, mv, pts in SERIES:
    for t, m, se in pts:
        rows.append({"exp": exp, "feedback": fb, "movement": mv,
                     "t": t, "mean": m, "lo": m - se, "hi": m + se})
traces = pd.DataFrame(rows)

T_SCALE = alt.Scale(domain=[-2.3, 4.3], nice=False, zero=False)
D_SCALE = alt.Scale(domain=[-1.071, 0.91], nice=False, zero=False)


def decoder_axis():
    return alt.Axis(values=[-1.0, -0.5, 0.0, 0.5], format=".1f", title=None, grid=False,
                    domainColor="#5a5a5a", domainWidth=1.6, tickColor="#333333", tickSize=3,
                    labelPadding=3.4, labelColor=TICK_GREY, labelFontSize=9.5, labelFont=FONT)


def time_axis():
    return alt.Axis(values=[-2, 0, 2, 4], format="d", title=None, grid=False,
                    domainColor="black", domainWidth=1.1, tickColor="#333333", tickSize=3,
                    labelPadding=2, labelColor=TICK_GREY, labelFontSize=9.5, labelFont=FONT,
                    labelFlush=False)


def time_course(exp, with_time_axis, extras):
    d = traces[traces["exp"] == exp]
    xaxis = time_axis() if with_time_axis else None
    x = alt.X("t:Q", scale=T_SCALE, axis=xaxis)
    color = alt.Color("feedback:N", scale=alt.Scale(domain=FEEDBACK, range=FEEDBACK_COLORS),
                      legend=None)
    band = alt.Chart(d).mark_area(opacity=0.4).encode(
        x=x,
        y=alt.Y("lo:Q", scale=D_SCALE, axis=decoder_axis(), stack=None),
        y2="hi:Q",
        color=color,
        detail="movement:N",
    )
    trace = alt.Chart(d).mark_line(strokeWidth=1.3).encode(
        x=x,
        y=alt.Y("mean:Q", scale=D_SCALE, axis=decoder_axis()),
        color=color,
        strokeDash=alt.StrokeDash("movement:N",
                                  scale=alt.Scale(domain=MOVEMENT, range=MOVEMENT_DASH),
                                  legend=None),
    )
    onset = alt.Chart(ONE).mark_rule(color="#5f5f5f", strokeWidth=1.8).encode(
        x=alt.XDatum(MOVEMENT_ONSET, scale=T_SCALE, axis=xaxis),
        y=alt.value(0), y2=alt.value(LINE_H))
    fb_onset = alt.Chart(ONE).mark_rule(color="black", strokeWidth=1, strokeDash=[4, 3]).encode(
        x=alt.XDatum(FEEDBACK_ONSET, scale=T_SCALE, axis=xaxis),
        y=alt.value(0), y2=alt.value(LINE_H))
    return alt.layer(band, trace, onset, fb_onset, *extras).properties(
        width=LINE_W, height=LINE_H)


# ---------------------------------------------------------------- AUC panels
def auc_panel(labels, fills, boxes, clouds, limits, x_end, height, top_gap, label_pad, y_ticks):
    n = len(labels)
    total_h = height + top_gap
    lo, hi = limits
    y_top = lo + total_h * (hi - lo) / height
    ys = alt.Scale(domain=[lo, y_top], nice=False, zero=False)
    xs = alt.Scale(domain=[0.4, x_end], nice=False, zero=False)
    expr = " : ".join(f"datum.value == {i} ? '{lab}'" for i, lab in enumerate(labels, 1)) + " : ''"
    x_axis = alt.Axis(values=list(range(1, n + 1)), labelExpr=expr, title=None, grid=False,
                      domainColor="black", domainWidth=1.1, tickColor="#333333", tickSize=3.5,
                      labelPadding=label_pad, labelFontSize=13, labelColor=INK, labelFont=FONT,
                      labelFlush=False, labelOverlap=False)
    y_axis = alt.Axis(values=y_ticks, format="d", title=None, grid=False, domain=False,
                      tickColor="#333333", tickSize=3, labelPadding=3.4, labelFontSize=9.5,
                      labelColor=TICK_GREY, labelFont=FONT)

    box_df = pd.DataFrame([
        {"fill": fills[i], "pos": i + 1, "left": i + 1 - BOX_WIDTH / 2,
         "right": i + 1 + BOX_WIDTH / 2, "lo": b[0], "q1": b[1], "med": b[2],
         "q3": b[3], "hi": b[4]}
        for i, b in enumerate(boxes)
    ])
    pts_df = pd.DataFrame([
        {"x": i + 1 + off, "y": v}
        for i, cloud in enumerate(clouds) for off, v in cloud
    ])

    whisker = alt.Chart(box_df).mark_rule(color="#3a3a3a", strokeWidth=1).encode(
        x=alt.X("pos:Q", scale=xs, axis=x_axis),
        y=alt.Y("lo:Q", scale=ys, axis=y_axis), y2="hi:Q")
    box = alt.Chart(box_df).mark_rect(stroke="#3a3a3a", strokeWidth=1.2).encode(
        x=alt.X("left:Q", scale=xs, axis=x_axis), x2="right:Q",
        y=alt.Y("q1:Q", scale=ys, axis=y_axis), y2="q3:Q",
        fill=alt.Fill("fill:N", scale=None, legend=None))
    median = alt.Chart(box_df).mark_rule(color="#333333", strokeWidth=2.6).encode(
        x=alt.X("left:Q", scale=xs, axis=x_axis), x2="right:Q",
        y=alt.Y("med:Q", scale=ys, axis=y_axis))
    dots = alt.Chart(pts_df).mark_circle(size=13, color="black", opacity=1).encode(
        x=alt.X("x:Q", scale=xs, axis=x_axis),
        y=alt.Y("y:Q", scale=ys, axis=y_axis))
    y_line = alt.Chart(ONE).mark_rule(color="black", strokeWidth=1.1).encode(
        x=alt.value(0), y=alt.YDatum(hi, scale=ys, axis=y_axis), y2=alt.value(total_h))
    ytitle = note("Classifier AUC", -26.3, top_gap + height / 2, 14,
                  align="center", angle=270)
    return alt.layer(whisker, box, median, dots, y_line, ytitle).properties(
        width=AUC_W, height=total_h)


# ------------------------------------------------------------------ legend
legend_marks = [
    segment(-7.1, 318.3, -7.1, 335.0, color="black", width=1.1),
    note("Movement Onset", 2.8, 326.6, 10.5),
    segment(105.4, 318.3, 105.4, 335.0, color="black", width=1.3, dash=[2, 2]),
    note("Feedback onset", 116.1, 326.6, 10.5),
    note("Movement type", 225.9, 282, 13),
    block(226.7, 295.3, 246.6, 314.3, "#ababab"),
    block(226.7, 315.3, 246.6, 335.0, "#ababab"),
    segment(228.6, 304.8, 243.9, 304.8, color="black", width=1.3),
    segment(228.6, 325.1, 243.9, 325.1, color="black", width=1.3, dash=[2.5, 1.5]),
    note(MOVEMENT[0], 253.4, 305, 10.5),
    note(MOVEMENT[1], 253.4, 325, 10.5),
    note("Feedback", 342.6, 282, 13),
]
for name, col, yy in zip(FEEDBACK, FEEDBACK_COLORS, [305.0, 325.3, 346.3, 367.6]):
    legend_marks.append(segment(344.6, yy, 361.4, yy, color=col, width=1.5))
    legend_marks.append(note(name, 370.2, yy, 10.5))

# page anchor at the figure's top-left corner
anchor = alt.Chart(ONE).mark_rule(opacity=0, strokeWidth=0.1).encode(
    x=alt.value(-54.6), y=alt.value(-47.7), x2=alt.value(-54.6), y2=alt.value(-47.7))

line_a = time_course("exp1", False, [
    note(EXP_TITLES["exp1"], 406.1, -28.4, 14, baseline="alphabetic"),
    note("A", -41, -7.7, 26, baseline="alphabetic"),
    anchor,
])
line_b = time_course("exp2", False, [
    note(EXP_TITLES["exp2"], 376.4, 2.6, 14, baseline="alphabetic"),
    note("B", -41, -7.7, 26, baseline="alphabetic"),
    note("Decoder output (A.U.)", -34.6, LINE_H / 2, 14, align="center", angle=270),
])
line_c = time_course("exp3", True, [
    note(EXP_TITLES["exp3"], 346.1, 13.6, 14, baseline="alphabetic"),
    note("C", -41, -7.7, 26, baseline="alphabetic"),
    note("Time (s)", LINE_W / 2, LINE_H + 22.7, 14, align="center"),
    *legend_marks,
])

auc_a = auc_panel(EXP1_LABELS, EXP1_FILLS, EXP1_BOXES, EXP1_POINTS, EXP1_AUC_LIMITS,
                  TWO_GROUP_X_END, 209.4, 0.0, 5, [0, 10, 20, 30, 40])
auc_b = auc_panel(EXP2_LABELS, EXP2_FILLS, EXP2_BOXES, EXP2_POINTS, EXP2_AUC_LIMITS,
                  TWO_GROUP_X_END, 208.4, 11.6, 5, [0, 10, 20, 30, 40])
auc_c = auc_panel(EXP3_LABELS, EXP3_FILLS, EXP3_BOXES, EXP3_POINTS, EXP3_AUC_LIMITS,
                  FOUR_GROUP_X_END, 208.4, 22.6, 11, [0, 10, 20, 30])

chart = alt.concat(
    line_a, auc_a, line_b, auc_b, line_c, auc_c,
    columns=2,
    spacing={"row": ROW_GAP, "column": COL_GAP},
    bounds="flush",
).properties(
    padding=0, background="white",
).configure(font=FONT).configure_view(stroke=None)

chart.save("out.html", embed_options={"renderer": "svg", "actions": False})
